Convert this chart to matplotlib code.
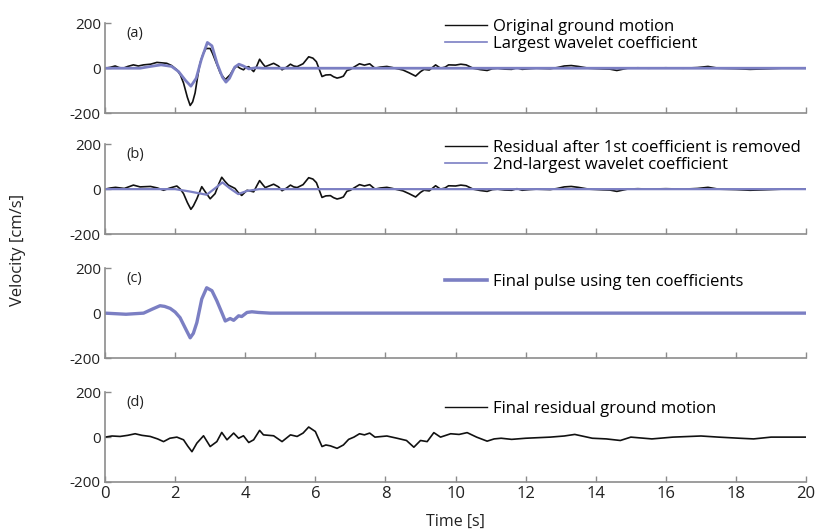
"""
plot.py
-------
Four-panel velocity time history: original motion, wavelet coefficients,
extracted pulse and residual.
"""

import matplotlib
matplotlib.use("Agg")
import matplotlib.pyplot as plt

plt.rcParams["font.family"] = ["Open Sans", "DejaVu Sans"]
plt.rcParams["axes.unicode_minus"] = False

# --------------------------------------------------------------------------
# Data (time [s], velocity [cm/s])
# --------------------------------------------------------------------------

original_motion = [
    (0, 0), (0.15, 4), (0.29, 10), (0.4, 3), (0.52, 0), (0.65, 8), (0.81, 15),
    (0.95, 10), (1.1, 15), (1.3, 18), (1.48, 26), (1.62, 24), (1.76, 22),
    (1.9, 12), (2.05, -7), (2.15, -30), (2.24, -66), (2.35, -130),
    (2.43, -166), (2.5, -150), (2.57, -110), (2.64, -40), (2.71, 22),
    (2.8, 65), (2.88, 88), (3.0, 88), (3.07, 65), (3.14, 37), (3.29, -22),
    (3.43, -51), (3.57, -29), (3.66, -5), (3.76, 10), (3.85, 0), (3.95, -7),
    (4.03, 5), (4.1, 7), (4.24, -15), (4.33, 10), (4.41, 40), (4.5, 20),
    (4.57, 7), (4.7, 15), (4.81, 22), (4.95, 10), (5.05, -7), (5.18, 5),
    (5.29, 18), (5.38, 10), (5.48, 7), (5.65, 20), (5.81, 51), (5.93, 45),
    (6.03, 29), (6.1, 0), (6.19, -37), (6.3, -30), (6.43, -29), (6.52, -38),
    (6.62, -44), (6.72, -40), (6.8, -35), (6.9, -10), (7.0, -5), (7.1, 5),
    (7.26, 20), (7.4, 14), (7.55, 20), (7.7, 0), (7.85, 5), (8.04, 8),
    (8.2, 3), (8.33, -2), (8.5, -8), (8.67, -20), (8.86, -35), (9.0, -15),
    (9.1, -5), (9.25, -8), (9.43, 15), (9.57, 0), (9.7, 5), (9.8, 15),
    (10.0, 14), (10.15, 18), (10.3, 15), (10.5, 0), (10.7, -6), (10.9, -10),
    (11.05, -2), (11.2, 0), (11.4, -4), (11.6, -5), (11.75, 2), (11.9, -5),
    (12.1, -2), (12.3, 0), (12.7, -2), (12.9, 3), (13.1, 10), (13.3, 12),
    (13.5, 8), (13.8, 0), (14.2, -3), (14.4, -4), (14.6, -10), (14.9, 0),
    (15.2, 2), (15.5, 0), (16.0, 2), (16.5, 0), (16.9, 3), (17.2, 8),
    (17.5, 0), (18.0, -2), (18.4, -5), (18.8, -3), (19.3, 0), (20, 0),
]

largest_coefficient = [
    (0, 0), (1.0, 0), (1.3, 8), (1.6, 15), (1.9, 8), (2.1, -15), (2.3, -55),
    (2.45, -80), (2.6, -45), (2.75, 40), (2.92, 115), (3.05, 100), (3.2, 20),
    (3.35, -40), (3.45, -62), (3.55, -45), (3.7, 5), (3.82, 18), (3.95, 10),
    (4.1, -3), (4.3, 2), (4.5, 0), (20, 0),
]

residual_after_first = [
    (0, 0), (0.15, 5), (0.3, 8), (0.55, 3), (0.81, 18), (1.0, 10), (1.3, 12),
    (1.5, 5), (1.67, -5), (1.85, 5), (2.05, 14), (2.15, 0), (2.24, -20),
    (2.35, -60), (2.45, -90), (2.52, -75), (2.62, -43), (2.76, 11),
    (2.86, -12), (3.0, -43), (3.14, -20), (3.25, 25), (3.33, 53), (3.42, 35),
    (3.52, 18), (3.71, 3), (3.8, -15), (3.9, -28), (4.05, -5), (4.24, -12),
    (4.33, 15), (4.41, 38), (4.5, 20), (4.57, 7), (4.7, 15), (4.81, 22),
    (4.95, 10), (5.05, -7), (5.18, 5), (5.29, 18), (5.38, 10), (5.48, 7),
    (5.65, 20), (5.81, 51), (5.93, 45), (6.03, 29), (6.1, 0), (6.19, -37),
    (6.3, -30), (6.43, -29), (6.52, -38), (6.62, -44), (6.72, -40),
    (6.8, -35), (6.9, -10), (7.0, -5), (7.1, 5), (7.26, 20), (7.4, 14),
    (7.55, 20), (7.7, 0), (7.85, 5), (8.04, 8), (8.2, 3), (8.33, -2),
    (8.5, -8), (8.67, -20), (8.86, -35), (9.0, -15), (9.1, -5), (9.25, -8),
    (9.43, 15), (9.57, 0), (9.7, 5), (9.8, 15), (10.0, 14), (10.15, 18),
    (10.3, 15), (10.5, 0), (10.7, -6), (10.9, -10), (11.05, -2), (11.2, 0),
    (11.4, -4), (11.6, -5), (11.75, 2), (11.9, -5), (12.1, -2), (12.3, 0),
    (12.7, -2), (12.9, 3), (13.1, 10), (13.3, 12), (13.5, 8), (13.8, 0),
    (14.2, -3), (14.4, -4), (14.6, -10), (14.9, 0), (15.2, 2), (15.5, 0),
    (16.0, 2), (16.5, 0), (16.9, 3), (17.2, 8), (17.5, 0), (18.0, -2),
    (18.4, -5), (18.8, -3), (19.3, 0), (20, 0),
]

second_coefficient = [
    (0, 0), (2.0, 0), (2.4, -10), (2.9, -25), (3.15, 5), (3.35, 30),
    (3.55, 5), (3.8, -22), (4.05, -8), (4.4, 0), (20, 0),
]

final_pulse = [
    (0, 0), (0.6, -5), (1.1, 0), (1.35, 18), (1.57, 33), (1.7, 30),
    (1.86, 21), (2.0, 5), (2.14, -20), (2.3, -70), (2.43, -110), (2.52, -90),
    (2.62, -42), (2.76, 63), (2.9, 113), (3.05, 100), (3.19, 55), (3.33, 3),
    (3.43, -35), (3.57, -24), (3.67, -32), (3.81, -12), (3.9, -15), (4.05, 3),
    (4.19, 6), (4.38, 3), (4.71, 0), (20, 0),
]

final_residual = [
    (0, 0), (0.2, 5), (0.43, 3), (0.65, 8), (0.86, 15), (1.05, 8),
    (1.29, 3), (1.5, -8), (1.67, -20), (1.85, -5), (2.05, 0), (2.24, -12),
    (2.36, -40), (2.48, -65), (2.62, -27), (2.81, 6), (3.0, -42), (3.19, -20),
    (3.33, 21), (3.48, -12), (3.67, 18), (3.81, -5), (3.95, 6), (4.1, -24),
    (4.24, -12), (4.41, 30), (4.52, 10), (4.81, 6), (5.05, -20), (5.29, 10),
    (5.48, 3), (5.65, 18), (5.81, 45), (6.0, 25), (6.19, -42), (6.3, -35),
    (6.43, -39), (6.62, -50), (6.8, -35), (6.95, -10), (7.1, 0), (7.26, 15),
    (7.4, 10), (7.55, 18), (7.7, 0), (8.04, 5), (8.33, -5), (8.6, -15),
    (8.81, -45), (9.0, -15), (9.19, -20), (9.38, 20), (9.57, 0), (9.86, 15),
    (10.1, 12), (10.33, 20), (10.6, 0), (10.9, -18), (11.1, -8), (11.3, -5),
    (11.6, -10), (12.0, -5), (12.7, 0), (13.1, 5), (13.4, 12), (13.9, -5),
    (14.3, -8), (14.7, -15), (15.0, 0), (15.6, -8), (16.2, 0), (17.0, 5),
    (17.5, 0), (18.1, -5), (18.5, -8), (19.0, 0), (20, 0),
]

x_ticks = [0, 2, 4, 6, 8, 10, 12, 14, 16, 18, 20]
y_ticks = [-200, 0, 200]

BLACK = "#111111"
PURPLE = "#7b7fc3"
GREY = "#8c8c8c"


def split(points):
    return [p[0] for p in points], [p[1] for p in points]


# --------------------------------------------------------------------------
# Figure
# --------------------------------------------------------------------------

fig = plt.figure(figsize=(8.21, 5.31), dpi=100)

left, width = 0.1279, 0.854
bottoms = [0.787, 0.5593, 0.3258, 0.0923]
legend_y = [1.045, 1.045, 0.94, 0.90]
height = 0.169

panels = [
    ("(a)", [(original_motion, BLACK, 1.2, "Original ground motion", 1.0),
             (largest_coefficient, PURPLE, 2.0, "Largest wavelet coefficient", 1.2)]),
    ("(b)", [(residual_after_first, BLACK, 1.2, "Residual after 1st coefficient is removed", 1.0),
             (second_coefficient, PURPLE, 1.6, "2nd-largest wavelet coefficient", 1.2)]),
    ("(c)", [(final_pulse, PURPLE, 2.4, "Final pulse using ten coefficients", 2.6)]),
    ("(d)", [(final_residual, BLACK, 1.2, "Final residual ground motion", 1.0)]),
]

for i, (tag, series) in enumerate(panels):
    ax = fig.add_axes([left, bottoms[i], width, height])
    handles = []
    for pts, color, lw, label, leg_lw in series:
        t, v = split(pts)
        ax.plot(t, v, color=color, linewidth=lw, solid_joinstyle="round")
        handles.append(plt.Line2D([], [], color=color, linewidth=leg_lw, label=label))

    ax.set_xlim(0, 20)
    ax.set_ylim(-200, 200)
    ax.set_xticks(x_ticks)
    ax.set_yticks(y_ticks)
    for side in ("top", "right"):
        ax.spines[side].set_visible(False)
    for side in ("left", "bottom"):
        ax.spines[side].set_color(GREY)
        ax.spines[side].set_linewidth(1.2)
    ax.tick_params(direction="in", length=4, color=GREY, width=1,
                   labelsize=11, labelcolor="#222222", pad=3)
    if i < 3:
        ax.tick_params(axis="x", labelbottom=False)
    else:
        ax.tick_params(axis="x", labelsize=12, pad=3)

    ax.text(0.03, 0.97, tag, transform=ax.transAxes, ha="left", va="top",
            fontsize=10.5, color="#222222")

    ax.legend(handles=handles, loc="upper left", bbox_to_anchor=(0.485, legend_y[i]),
              frameon=False, fontsize=12, handlelength=2.5, handletextpad=0.35,
              borderpad=0, borderaxespad=0, labelspacing=0.02)

fig.text(0.022, 0.53, "Velocity [cm/s]", rotation=90, ha="center", va="center",
         fontsize=12, color="#222222")
fig.text(0.555, 0.018, "Time [s]", ha="center", va="center",
         fontsize=11.5, color="#222222")

fig.savefig("out.png", dpi=100)
plt.close(fig)
